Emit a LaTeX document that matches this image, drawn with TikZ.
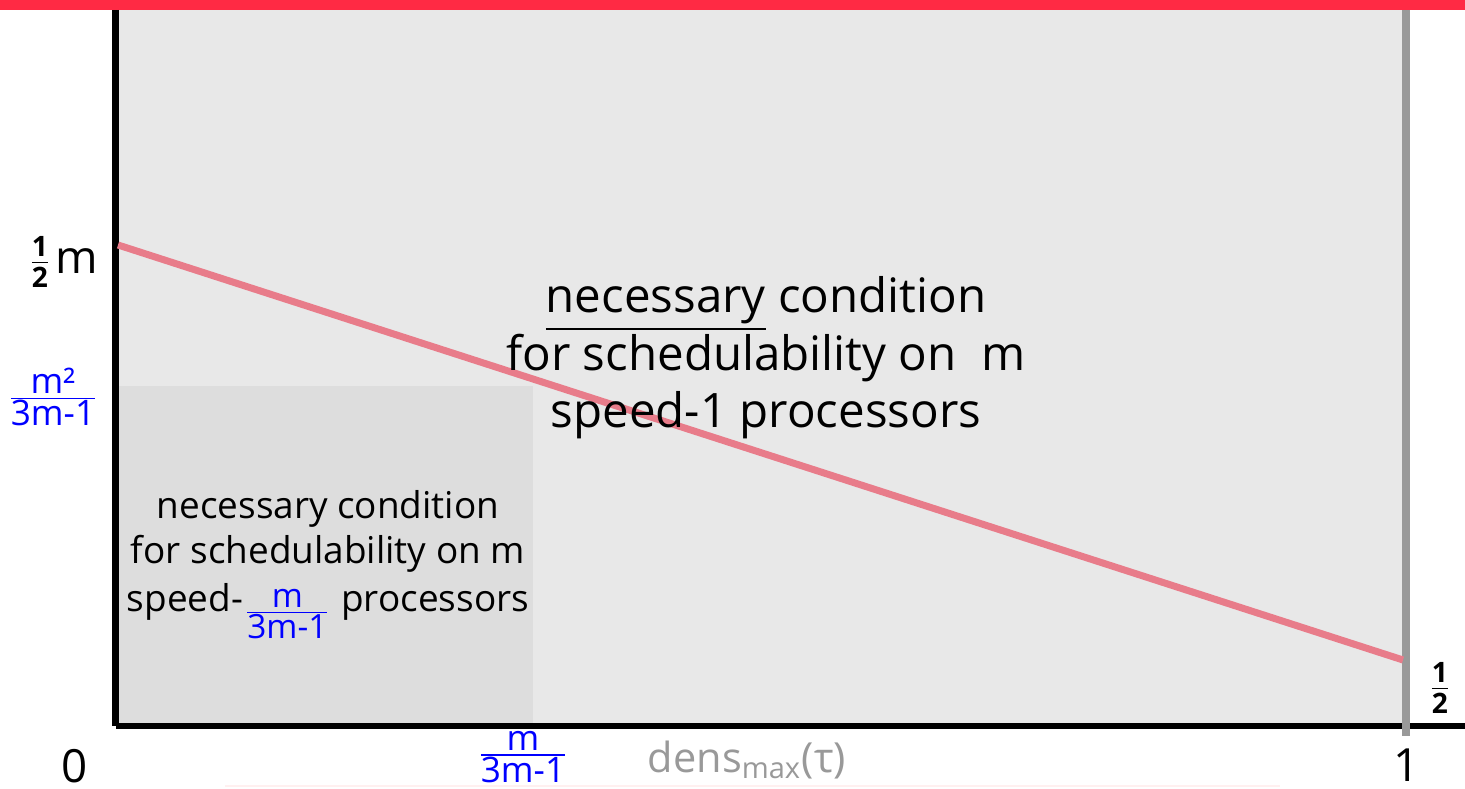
\documentclass[tikz,border=0pt]{standalone}
\usepackage{fontspec}
\setmainfont{Open Sans}
\definecolor{topred}{HTML}{FF2A44}
\definecolor{areagrey}{HTML}{E8E8E8}
\definecolor{boxgrey}{HTML}{DDDDDD}
\definecolor{bargrey}{HTML}{999999}
\definecolor{linepink}{HTML}{E87C8A}
\definecolor{fracblue}{HTML}{0000FF}
\newcommand{\bfrac}[2]{\ensuremath{\frac{\mbox{#1}}{\mbox{#2}}}}
\tikzset{
  lbl/.style={inner sep=0pt, font=\fontsize{13}{15}\selectfont},
  bluefrac/.style={inner sep=0pt, text=fracblue, font=\fontsize{10}{12}\selectfont},
  bigtext/.style={inner sep=0pt, align=center, font=\fontsize{13.5}{16.4}\selectfont},
  smalltext/.style={inner sep=0pt, align=center, font=\fontsize{10.5}{12.6}\selectfont},
}
\begin{document}
\begin{tikzpicture}[x=0.01cm, y=-0.01cm]
\useasboundingbox (0,0) rectangle (1465,789);
% regions
\fill[areagrey] (117,10) rectangle (1405,725);
\fill[boxgrey] (119,386) rectangle (533,724);
\fill[topred] (0,0) rectangle (1465,10);
% faint bottom line
\draw[color=red!6, line width=0.6pt] (225,786) -- (1280,786);
% axes
\coordinate (ytop) at (115.5,10);
\coordinate (orig) at (115.5,726);
\coordinate (xend) at (1465,726);
\draw[line width=0.6mm, black] (ytop) -- (orig);
\draw[line width=0.6mm, black] (orig) -- (xend);
% grey vertical bar at x = 1
\coordinate (gtop) at (1406,10);
\coordinate (gbot) at (1406,736);
\draw[bargrey, line width=0.7mm] (gtop) -- (gbot);
% pink line
\coordinate (pstart) at (118,245);
\coordinate (pend) at (1403,660);
\draw[linepink, line width=0.7mm] (pstart) -- (pend);
% labels
\node[lbl] (halfm) at (63,262) {\bfrac{\bfseries\footnotesize 1}{\bfseries\footnotesize 2}\kern1pt m};
\node[bluefrac] (yfrac) at (53,397) {\bfrac{m²}{3m-1}};
\node[lbl] (zero) at (75,766) {0};
\node[bluefrac] (xfrac) at (523,757) {\bfrac{m}{3m-1}};
\node[lbl, text=bargrey, font=\fontsize{11.8}{14}\selectfont] (dens) at (747,760) {dens\textsubscript{max}(τ)};
\node[lbl] (one) at (1407,765) {1};
\node[lbl] (half) at (1440,688) {\bfrac{\bfseries\footnotesize 1}{\bfseries\footnotesize 2}};
% main texts
\node[bigtext] (bigcond) at (766,358) {\underline{necessary} condition\\for schedulability on\ \ m\\speed-1 processors};
\node[smalltext] (smallcond) at (328,565) {necessary condition\\for schedulability on m\\[1pt]speed-\raisebox{-0.25em}{\textcolor{fracblue}{\fontsize{9.5}{11}\selectfont\bfrac{m}{3m-1}}} processors};
\end{tikzpicture}
\end{document}
